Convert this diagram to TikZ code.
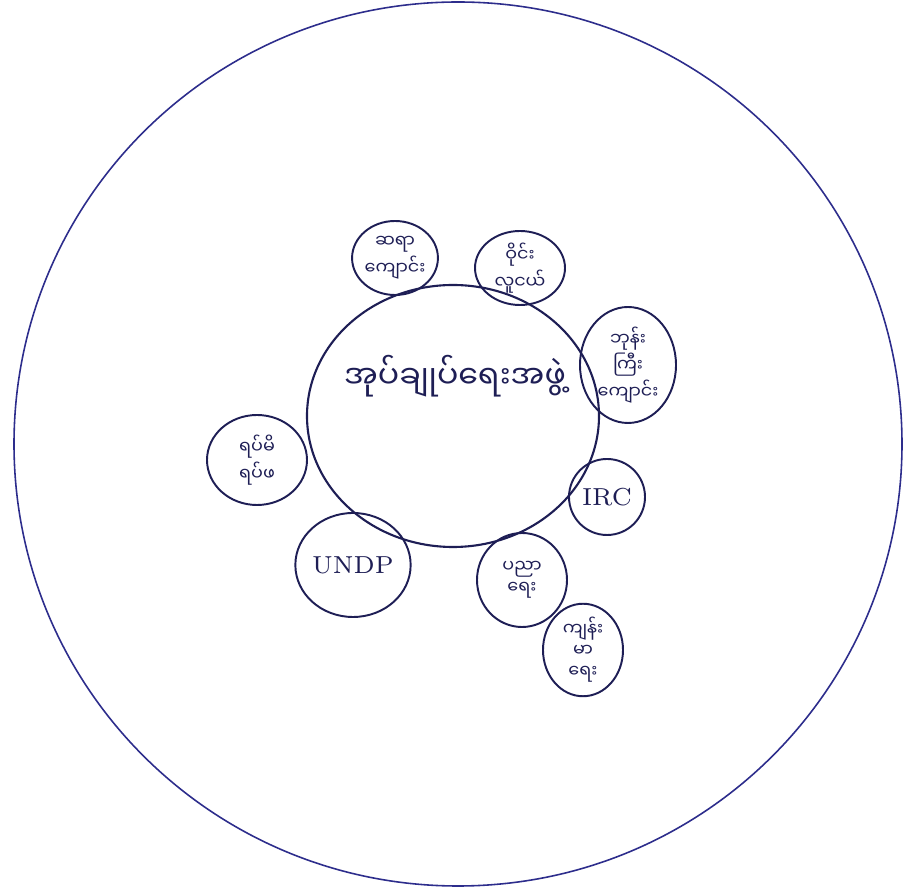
\documentclass[tikz,border=0pt]{standalone}
\usepackage{fontspec}
\newfontfamily\mmfont[Script=Myanmar]{Noto Sans Myanmar UI}
\usetikzlibrary{shapes.geometric}
\definecolor{ink}{RGB}{30,30,85}
\definecolor{rim}{RGB}{45,45,140}
\tikzset{
  group/.style={ellipse,draw=ink,line width=0.55pt,inner sep=0pt,align=center,
    text=ink,font=\mmfont\fontsize{5}{6}\selectfont},
  latin/.style={group,font=\fontsize{7}{8}\selectfont}
}

\begin{document}
\begin{tikzpicture}

% =========================
% FRAME
% =========================

\useasboundingbox (0,0) rectangle (9.06,8.89);
\fill[white] (0,0) rectangle (9.06,8.89);

\node[ellipse,draw=rim,line width=0.45pt,minimum width=8.88cm,minimum height=8.84cm] (outer) at (4.58,4.45) {};

% =========================
% CENTRE
% =========================

\node[ellipse,draw=ink,line width=0.6pt,minimum width=2.92cm,minimum height=2.62cm] (admin) at (4.53,4.73) {};
\node[text=ink,font=\mmfont\small] (admintext) at (4.55,5.13) {အုပ်ချုပ်ရေးအဖွဲ့};

% =========================
% GROUPS
% =========================

\node[group,minimum width=0.76cm,minimum height=0.74cm] (teacher) at (3.95,6.31) {ဆရာ\\ကျောင်း};
\node[group,minimum width=0.9cm,minimum height=0.74cm] (youth) at (5.20,6.21) {ဝိုင်း\\လူငယ်};
\node[group,minimum width=0.96cm,minimum height=1.16cm] (monastery) at (6.28,5.24) {ဘုန်း\\ကြီး\\ကျောင်း};
\node[latin,minimum width=0.76cm,minimum height=0.76cm] (irc) at (6.07,3.92) {IRC};
\node[group,minimum width=0.9cm,minimum height=0.94cm] (education) at (5.22,3.09) {ပညာ\\ရေး};
\node[group,minimum width=0.8cm,minimum height=0.86cm] (health) at (5.83,2.39) {ကျန်း\\မာ\\ရေး};
\node[latin,minimum width=1.1cm,minimum height=1.04cm] (undp) at (3.53,3.24) {UNDP};
\node[group,minimum width=1.0cm,minimum height=0.9cm] (elders) at (2.57,4.29) {ရပ်မိ\\ရပ်ဖ};

\end{tikzpicture}
\end{document}
